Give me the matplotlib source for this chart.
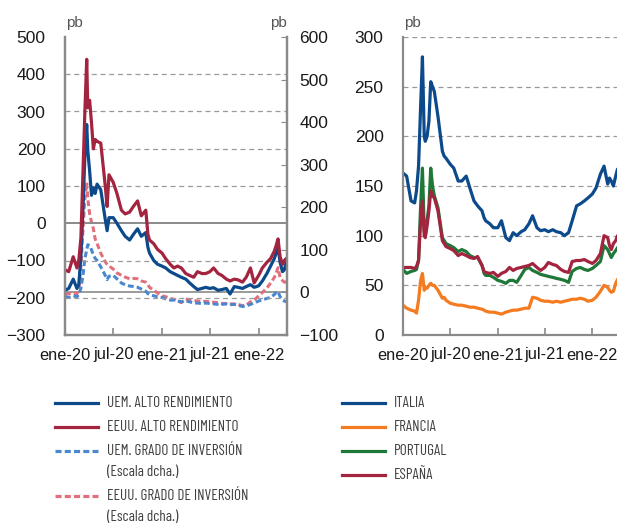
import pandas as pd; import matplotlib; matplotlib.use('Agg'); import matplotlib.pyplot as plt
from matplotlib.lines import Line2D
from matplotlib import font_manager
#########################################
# common dates (roughly semi-monthly, denser around the covid spike)
dates = ['2020-01-01','2020-01-15','2020-02-01','2020-02-15','2020-02-22','2020-03-01','2020-03-09','2020-03-16',
         '2020-03-23','2020-03-27','2020-04-03','2020-04-10','2020-04-17','2020-04-24','2020-05-01','2020-05-15',
         '2020-06-01','2020-06-08','2020-06-15','2020-07-01','2020-07-15','2020-08-01','2020-08-15','2020-09-01',
         '2020-09-15','2020-10-01','2020-10-15','2020-11-01','2020-11-09','2020-11-15','2020-12-01','2020-12-15',
         '2021-01-01','2021-01-15','2021-02-01','2021-02-15','2021-03-01','2021-03-15','2021-04-01','2021-04-15',
         '2021-05-01','2021-05-15','2021-06-01','2021-06-15','2021-07-01','2021-07-15','2021-08-01','2021-08-15',
         '2021-09-01','2021-09-15','2021-10-01','2021-10-15','2021-11-01','2021-11-15','2021-12-01','2021-12-15',
         '2022-01-01','2022-01-15','2022-02-01','2022-02-15','2022-03-01','2022-03-08','2022-03-15','2022-03-23',
         '2022-04-01','2022-04-08','2022-04-15']
# left panel, left scale
uem_hy = [-180,-175,-150,-175,-165,-90,40,180,265,195,140,75,95,80,105,90,
          10,-20,15,15,0,-20,-35,-45,-30,-15,-35,-25,-65,-80,-100,-110,
          -115,-120,-130,-135,-140,-145,-150,-160,-170,-178,-175,-172,-175,-173,-180,-178,
          -175,-190,-170,-172,-175,-170,-165,-172,-168,-155,-135,-115,-95,-80,-65,-105,
          -130,-125,-105]
eeuu_hy = [-125,-130,-90,-120,-100,-40,140,300,440,310,330,270,200,225,220,215,
           100,45,130,110,80,35,25,30,45,60,20,35,-30,-45,-55,-70,
           -80,-95,-110,-120,-115,-120,-135,-140,-145,-130,-135,-135,-130,-120,-135,-140,
           -150,-155,-150,-152,-158,-145,-120,-160,-140,-120,-105,-95,-75,-60,-42,-90,
           -110,-100,-95]
# left panel, right scale
uem_ig = [-10,-12,-8,-10,-5,10,40,80,100,112,110,100,88,80,75,60,
          40,30,38,40,32,22,18,15,14,12,8,3,-3,-5,-8,-10,
          -12,-15,-18,-18,-20,-22,-20,-22,-25,-25,-26,-25,-26,-27,-28,-28,
          -27,-29,-28,-30,-33,-32,-28,-25,-20,-18,-14,-12,-5,0,2,-10,
          -18,-20,-22]
eeuu_ig = [-5,-3,-2,-3,5,60,150,220,258,220,185,165,150,125,115,92,
           72,66,62,55,46,40,36,32,33,32,27,24,18,12,5,-1,
           -8,-10,-14,-16,-20,-24,-15,-18,-19,-20,-21,-21,-22,-23,-24,-26,
           -26,-27,-27,-28,-31,-30,-22,-18,-8,0,10,22,35,45,58,35,
           28,24,25]
# right panel
italia = [163,160,135,133,145,170,230,280,200,195,200,215,255,250,245,220,
          185,180,178,172,168,155,155,160,148,135,130,125,118,115,112,108,
          108,115,98,95,103,100,104,106,112,120,108,105,106,104,106,104,
          103,100,103,115,130,132,135,138,142,148,162,170,152,158,155,150,
          160,167,165]
francia = [30,27,25,24,22,35,55,62,45,48,47,50,52,50,50,45,
           37,38,35,32,31,30,30,29,28,28,27,26,25,24,23,23,
           22,21,23,24,25,25,26,27,27,38,37,35,34,34,33,34,
           33,34,35,36,36,37,36,34,35,38,44,50,48,45,43,44,
           52,56,56]
portugal = [66,62,64,65,66,75,130,168,105,100,115,130,168,150,140,128,
            98,95,92,90,88,84,86,84,80,78,78,70,62,60,60,58,
            55,54,52,55,55,53,60,66,68,65,63,61,60,59,58,57,
            56,55,53,64,67,68,66,65,67,70,74,90,86,82,78,82,
            85,88,88]
espana = [68,68,68,67,69,75,115,135,100,98,110,125,145,140,138,125,
          95,92,89,87,85,80,82,80,78,77,79,70,64,63,62,63,
          59,62,64,68,65,67,68,69,70,72,68,65,68,73,71,70,
          66,64,63,74,75,75,76,74,72,75,82,100,98,90,86,92,
          95,100,100]
tick_dates = ['2020-01-01','2020-07-01','2021-01-01','2021-07-01','2022-01-01']
tick_labels = ['ene-20','jul-20','ene-21','jul-21','ene-22']
left_ticks = [-300,-200,-100,0,100,200,300,400,500]
right_ticks = [-100,0,100,200,300,400,500,600]
panel2_ticks = [0,50,100,150,200,250,300]
########################################
c_blue='#0c4a8b';c_red='#a3243f';c_lblue='#4a87cf';c_pink='#e2707c';c_orange='#f47b20';c_green='#1e7838'
grey='#8a8a8a'
plt.rcParams['font.family']=['Liberation Sans','DejaVu Sans']
d=pd.to_datetime(dates); td=pd.to_datetime(tick_dates)

fig=plt.figure(figsize=(6.17,5.23),dpi=100)
renderer=fig.canvas.get_renderer()

# condensed regular face for the legend, the one closest to the reference width
skip=('Bold','Oblique','Italic','Black','Semibold','SemiBold','Medium','Light','Thin','Hairline','Heavy')
cands=[f for f in font_manager.fontManager.ttflist
       if (f.stretch in ('condensed','semi-condensed') or 'Narrow' in f.name or 'Condensed' in f.name)
       and not any(k in f.fname or k in f.name for k in skip)
       and f.weight in (400,'normal','regular','book')]
best=None
for f in cands:
    fp=font_manager.FontProperties(fname=f.fname,size=11)
    t=fig.text(0,0,'UEM. ALTO RENDIMIENTO',fontproperties=fp)
    w=t.get_window_extent(renderer).width; t.remove()
    if best is None or abs(w-125)<abs(best[1]-125): best=(f.fname,w)
if best:
    size=max(10,min(11,11*125/best[1]))
    leg_fp=font_manager.FontProperties(fname=best[0],size=size)
else:
    leg_fp=font_manager.FontProperties(family='Liberation Sans',size=9.5)

ax=fig.add_axes([65/617,1-335/523,222/617,298/523])
ax2=ax.twinx()
ax.set_zorder(ax2.get_zorder()+1); ax.patch.set_visible(False)

ax2.plot(d,eeuu_ig,color=c_pink,lw=2.2,linestyle=(0,(1.9,1.0)))
ax2.plot(d,uem_ig,color=c_lblue,lw=2.2,linestyle=(0,(1.9,1.0)))
ax2.axhline(0,color=grey,lw=1.2,zorder=0)
ax.plot(d,uem_hy,color=c_blue,lw=2.3)
ax.plot(d,eeuu_hy,color=c_red,lw=2.3)
for v in left_ticks[1:-1]:
    if v==0: ax.axhline(v,color=grey,lw=1.4,zorder=0)
    else: ax.axhline(v,color='#9a9a9a',lw=0.9,linestyle=(0,(4,3)),zorder=0)
ax.set_ylim(-300,500); ax2.set_ylim(-100,600)
ax.set_yticks(left_ticks); ax2.set_yticks(right_ticks)
ax.set_xlim(pd.Timestamp('2020-01-01'),pd.Timestamp('2022-04-18'))
ax.set_xticks(td); ax.set_xticklabels(tick_labels)

ax3=fig.add_axes([403/617,1-335/523,214/617,298/523])
ax3.plot(d,italia,color=c_blue,lw=2.3)
ax3.plot(d,francia,color=c_orange,lw=2.3)
ax3.plot(d,portugal,color=c_green,lw=2.3)
ax3.plot(d,espana,color=c_red,lw=2.3)
for v in panel2_ticks[1:]:
    ax3.axhline(v,color='#9a9a9a',lw=0.9,linestyle=(0,(4,3)),zorder=0)
ax3.set_ylim(0,300); ax3.set_yticks(panel2_ticks)
ax3.set_xlim(pd.Timestamp('2020-01-01'),pd.Timestamp('2022-04-06'))
ax3.set_xticks(td); ax3.set_xticklabels(tick_labels)

for a in [ax,ax2,ax3]:
    for s in a.spines.values(): s.set_color(grey); s.set_linewidth(1.6)
    a.spines['top'].set_visible(False)
ax3.spines['right'].set_visible(False)
ax.tick_params(axis='y',length=0,pad=14,labelsize=12.5,colors='#1a1a1a')
ax2.tick_params(axis='y',direction='in',length=4,color=grey,pad=9,labelsize=12.5,labelcolor='#1a1a1a')
ax3.tick_params(axis='y',length=0,pad=14,labelsize=12.5,colors='#1a1a1a')
for a in [ax,ax3]:
    a.tick_params(axis='x',direction='in',length=5,color=grey,width=1.2,pad=9,labelsize=11.8,labelcolor='#1a1a1a')

fig.text(66/617,1-23/523,'pb',fontsize=11,color='#555555',va='center')
fig.text(287/617,1-23/523,'pb',fontsize=11,color='#555555',va='center',ha='right')
fig.text(404/617,1-23/523,'pb',fontsize=11,color='#555555',va='center')

# legend
def leg_item(x0,x1,y,col,ls,label,sub=None):
    fig.add_artist(Line2D([x0/617,x1/617],[1-y/523,1-y/523],color=col,lw=2.3,linestyle=ls))
    fig.text((x1+9)/617,1-y/523,label,fontproperties=leg_fp,color='#404040',va='center')
    if sub: fig.text((x1+9)/617,1-(y+21)/523,sub,fontproperties=leg_fp,color='#404040',va='center')
dash=(0,(1.9,1.0))
leg_item(55,98,403,c_blue,'-','UEM. ALTO RENDIMIENTO')
leg_item(55,98,427,c_red,'-','EEUU. ALTO RENDIMIENTO')
leg_item(55,98,451,c_lblue,dash,'UEM. GRADO DE INVERSIÓN','(Escala dcha.)')
leg_item(55,98,496,c_pink,dash,'EEUU. GRADO DE INVERSIÓN','(Escala dcha.)')
leg_item(342,385,403,c_blue,'-','ITALIA')
leg_item(342,385,427,c_orange,'-','FRANCIA')
leg_item(342,385,451,c_green,'-','PORTUGAL')
leg_item(342,385,475,c_red,'-','ESPAÑA')

plt.savefig('out.png',dpi=100)
